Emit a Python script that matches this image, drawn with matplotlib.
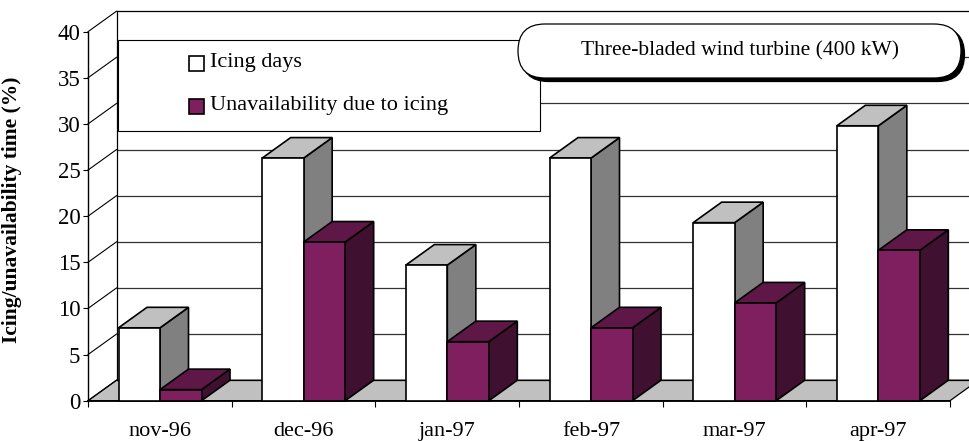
import matplotlib
matplotlib.use("Agg")
import matplotlib.pyplot as plt
from matplotlib.patches import Polygon, FancyBboxPatch, Rectangle

plt.rcParams['font.family'] = ['Liberation Serif', 'DejaVu Serif']

months = ['nov-96', 'dec-96', 'jan-97', 'feb-97', 'mar-97', 'apr-97']
icing_days = [7.9, 26.3, 14.7, 26.3, 19.3, 29.8]
unavailability = [1.2, 17.2, 6.4, 7.9, 10.6, 16.3]
series_names = ['Icing days', 'Unavailability due to icing']
y_ticks = [0, 5, 10, 15, 20, 25, 30, 35, 40]
y_label = 'Icing/unavailability time (%)'
callout = 'Three-bladed wind turbine (400 kW)'

W, H = 969, 441
X0, X1, Y0, Y40 = 88.0, 950.0, 400.7, 31.7
PX = (X1 - X0) / 6
PY = (Y0 - Y40) / 40
DX = 28.5 / PX
DY = 20.5 / PY
BAR_W = 41.5 / PX
BAR_START = 30.5 / PX

fig = plt.figure(figsize=(W / 100, H / 100), dpi=100, facecolor='white')
ax = fig.add_axes([X0 / W, 1 - Y0 / H, (X1 - X0) / W, (Y0 - Y40) / H])
ax.set_xlim(0, 6)
ax.set_ylim(0, 40)
ax.patch.set_visible(False)
for s in ('top', 'right'):
    ax.spines[s].set_visible(False)
ax.spines['left'].set_linewidth(1.0)
ax.spines['bottom'].set_linewidth(1.3)


def poly(pts, fc, ec='black', lw=1.2, z=3):
    ax.add_patch(Polygon(pts, closed=True, facecolor=fc, edgecolor=ec, linewidth=lw,
                         zorder=z, clip_on=False, joinstyle='miter'))


# floor
poly([(0, 0), (DX, DY), (6 + DX, DY), (6, 0)], '#C0C0C0', lw=0.9, z=1)

# walls and gridlines
for t in y_ticks:
    c = 'black' if t in (0, 40) else '#333333'
    ax.plot([0, DX], [t, t + DY], color='black', lw=0.8, clip_on=False, zorder=1.5)
    ax.plot([DX, 6 + DX], [t + DY, t + DY], color=c, lw=0.9, clip_on=False, zorder=1.5)
ax.plot([DX, DX], [DY, 40 + DY], color='black', lw=0.9, clip_on=False, zorder=1.5)


def bar3d(x, v, front, top, side, z):
    x2 = x + BAR_W
    poly([(x2, 0), (x2 + DX, DY), (x2 + DX, v + DY), (x2, v)], side, z=z)
    poly([(x, v), (x + DX, v + DY), (x2 + DX, v + DY), (x2, v)], top, z=z)
    poly([(x, 0), (x2, 0), (x2, v), (x, v)], front, z=z)


for i in range(len(months)):
    bar3d(i + BAR_START, icing_days[i], 'white', '#C0C0C0', '#808080', 3 + i * 0.1)
    bar3d(i + BAR_START + BAR_W, unavailability[i], '#7F1F5F', '#5F1747', '#3F102F', 3.05 + i * 0.1)

ax.set_yticks(y_ticks)
ax.set_xticks(range(7))
ax.set_xticklabels([])
ax.set_xticks([i + 0.5 for i in range(6)], minor=True)
ax.set_xticklabels(months, minor=True, fontsize=16)
ax.tick_params(axis='x', which='major', length=4.5, width=0.8)
ax.tick_params(axis='x', which='minor', length=0, pad=15)
ax.tick_params(axis='y', length=3.5, width=0.8, labelsize=16.5, pad=2)
ax.set_ylabel(y_label, fontsize=15.5, fontweight='bold')
ax.yaxis.set_label_coords((22 - X0) / (X1 - X0), (Y0 - 210) / (Y0 - Y40))

# overlay in pixel coordinates: legend and callout
ov = fig.add_axes([0, 0, 1, 1], zorder=10)
ov.set_xlim(0, W)
ov.set_ylim(H, 0)
ov.axis('off')
ov.add_patch(Rectangle((118.5, 40), 422, 91, facecolor='white', edgecolor='black', lw=0.8))
swatches = [('white', 56), ('#7F1F5F', 99)]
for (fc, y), name in zip(swatches, series_names):
    ov.add_patch(Rectangle((189, y), 15, 14.5, facecolor=fc, edgecolor='black', lw=1.2))
    ov.text(210.5, y + 6.5, name, fontsize=16, va='center', ha='left')

for off, fc in ((3.5, 'black'), (0, 'white')):
    ov.add_patch(FancyBboxPatch((518 + 27 + off, 24 + 27 + off), 445 - 54 - off * 0 - 2, 0.01,
                                boxstyle='round,pad=27,rounding_size=27',
                                facecolor=fc, edgecolor='black', lw=0.9))
ov.text(740, 50.5, callout, fontsize=15.5, va='center', ha='center')

fig.savefig('out.png', dpi=100, facecolor='white')
